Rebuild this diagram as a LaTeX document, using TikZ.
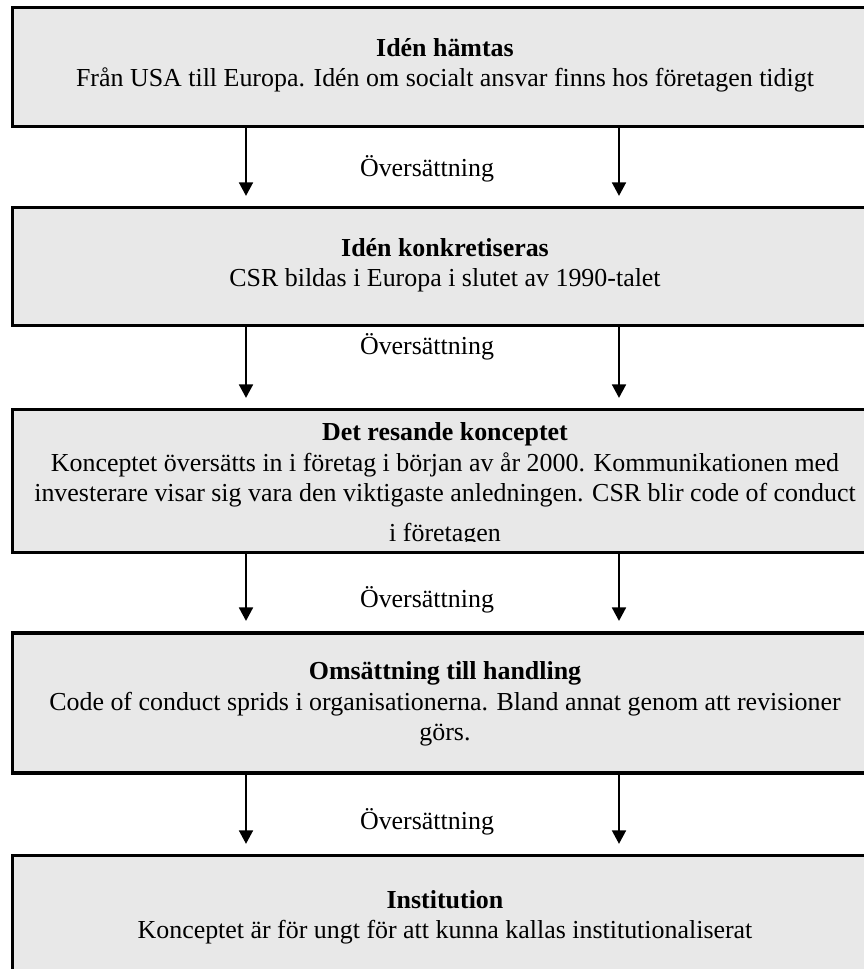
\documentclass[tikz,border=0pt]{standalone}
\usepackage{fontspec}
\setmainfont{Liberation Serif}
\usetikzlibrary{arrows.meta,positioning,calc}
\definecolor{boxgray}{HTML}{E8E8E8}

\begin{document}
\begin{tikzpicture}[
  x=0.5208pt, y=-0.5208pt,
  >={Triangle[width=7.3pt,length=7pt]},
  stage/.style={rectangle,draw=black,fill=boxgray,line width=1.6pt,minimum width=452pt,inner sep=0pt},
  stagetxt/.style={align=center,font=\fontsize{13.5}{15.8}\selectfont,inner sep=0pt},
  flow/.style={->,line width=0.9pt,shorten >=5.5pt},
  translbl/.style={font=\fontsize{13.5}{15.8}\selectfont,inner sep=0pt}
]
\useasboundingbox (0,0) rectangle (864,969);
\clip (0,0) rectangle (864,969);

% stage boxes, cut off by the right and bottom edge
\node[stage,minimum height=61.5pt] (s1) at (446,67) {};
\node[stage,minimum height=61pt]   (s2) at (446,266.5) {};
\node[stage,minimum height=74pt]   (s3) at (446,481) {};
\node[stage,minimum height=72.9pt] (s4) at (446,703) {};
\node[stage,minimum height=73pt]   (s5) at (446,926) {};

% stage texts
\node[stagetxt] (t1) at (445,65) {\textbf{Idén hämtas}\\Från USA till Europa. Idén om socialt ansvar finns hos företagen tidigt};
\node[stagetxt] (t2) at (445,265) {\textbf{Idén konkretiseras}\\CSR bildas i Europa i slutet av 1990-talet};
\begin{scope}
  \clip (12,412) rectangle (880,541);   % last line runs out of the box
  \node[stagetxt] (t3) at (445,485) {\textbf{Det resande konceptet}\\Konceptet översätts in i företag i början av år 2000. Kommunikationen med\\investerare visar sig vara den viktigaste anledningen. CSR blir code of conduct\\[5.2pt]i företagen};
\end{scope}
\node[stagetxt] (t4) at (445,704) {\textbf{Omsättning till handling}\\Code of conduct sprids i organisationerna. Bland annat genom att revisioner\\görs.};
\node[stagetxt] (t5) at (445,917) {\textbf{Institution}\\Konceptet är för ungt för att kunna kallas institutionaliserat};

% arrow columns
\coordinate (cl) at (246,0);
\coordinate (cr) at (619,0);

% two arrows between each pair of stages
\foreach \a/\b in {s1/s2,s2/s3,s3/s4,s4/s5}{
  \draw[flow] (\a.south -| cl) -- (\b.north -| cl);
  \draw[flow] (\a.south -| cr) -- (\b.north -| cr);
}

% translation labels
\node[translbl] (o1) at (427,169) {Översättning};
\node[translbl] (o2) at (427,347) {Översättning};
\node[translbl] (o3) at (427,600) {Översättning};
\node[translbl] (o4) at (427,822) {Översättning};

\end{tikzpicture}
\end{document}
